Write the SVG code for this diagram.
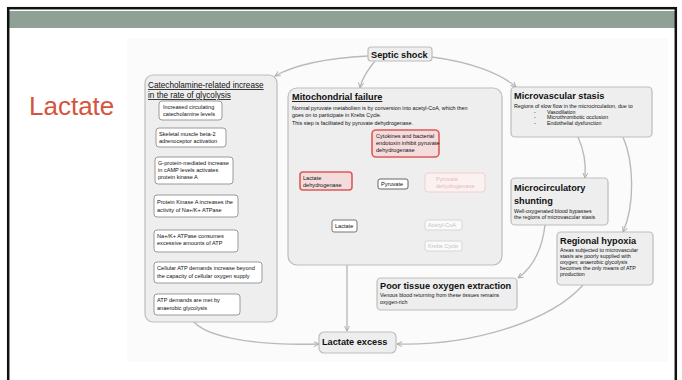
<svg xmlns="http://www.w3.org/2000/svg" width="682" height="380" viewBox="0 0 682 380">
<defs>
<style>
.t{font-family:"Liberation Sans",Arial,sans-serif;fill:#111}
.h{font-weight:bold;font-size:9.2px}
.s{font-size:5.6px}
.u{text-decoration:underline}
.box{fill:#eeeeee;stroke:#bdbdbd;stroke-width:1.2}
.ibox{fill:#ffffff;stroke:#9a9a9a;stroke-width:1}
.red{fill:#f5dcdc;stroke:#dc5a57;stroke-width:1.6}
.faint{fill:#fbf1f1;stroke:#f1cfcf;stroke-width:1}
.fbox{fill:#fafafa;stroke:#d6d6d6;stroke-width:1}
.conn{fill:none;stroke:#bababa;stroke-width:1.4}
.rc{fill:none;stroke:#dc5a57;stroke-width:1.7}
</style>
<marker id="ar" viewBox="0 0 8 8" refX="7" refY="4" markerWidth="6" markerHeight="6" markerUnits="userSpaceOnUse" orient="auto">
<path d="M0,0.5 L7,4 L0,7.5" fill="none" stroke="#a8a8a8" stroke-width="1.2"/>
</marker>
</defs>
<rect x="0" y="0" width="682" height="380" fill="#ffffff"/>
<rect x="8" y="11" width="668" height="17" fill="#8fa196"/>
<rect x="8.2" y="8.2" width="667.6" height="380" fill="none" stroke="#111" stroke-width="2.5"/>
<text x="29" y="115" style="font-family:'Liberation Sans',Arial,sans-serif;font-size:26px;fill:#d6533c">Lactate</text>
<rect x="127" y="38" width="541" height="324" fill="#fbfbfb"/>

<g id="connectors">
<path class="conn" d="M368,56 C330,58 296,64 275,76" marker-end="url(#ar)"/>
<path class="conn" d="M375,61 C368,70 362,78 360,88" marker-end="url(#ar)"/>
<path class="conn" d="M432,57 C470,62 500,73 516,87" marker-end="url(#ar)"/>
<path class="conn" d="M578,137 C584,150 586,165 585,178" marker-end="url(#ar)"/>
<path class="conn" d="M623,137 C634,162 635,205 623,232" marker-end="url(#ar)"/>
<path class="conn" d="M545,225 C542,250 532,268 518,278" marker-end="url(#ar)"/>
<path class="conn" d="M583,285 C550,322 470,346 397,344" marker-end="url(#ar)"/>
<path class="conn" d="M190,315 C196,336 250,346 319,344" marker-end="url(#ar)"/>
<path class="conn" d="M347,232 L347,331" marker-end="url(#ar)"/>
<path class="conn" d="M188,120 V128 M188,147 V157 M188,184 V195 M188,217 V230 M188,252 V262 M188,283 V294"/>
<path class="conn" d="M378,184 C360,186 348,200 347,220"/>
<path class="conn" d="M408,184 C430,184 443,196 443,220" style="stroke:#d8d8d8"/>
<path class="conn" d="M443,230 V241" style="stroke:#d8d8d8"/>
<path class="rc" d="M433,157 C435,167 434,173 430,177"/>
<path class="rc" d="M429,173 C421,176 421,187 429,190"/>
<path class="rc" d="M354,178 C365,180 366,192 354,195"/>
</g>

<g id="septic-shock">
<rect class="box" x="368" y="47" width="64" height="14" rx="3"/>
<text class="t h" x="371" y="57.5">Septic shock</text>
</g>

<g id="catecholamine">
<rect class="box" x="145" y="75" width="132" height="247" rx="8"/>
<text class="t u" x="148" y="88" style="font-size:8.2px">Catecholamine-related increase</text>
<text class="t u" x="148" y="98" style="font-size:8.2px">in the rate of glycolysis</text>
</g>
<g id="c1"><rect class="ibox" x="159" y="101" width="63" height="19" rx="3"/>
<text class="t s" x="163" y="108.5">Increased circulating</text><text class="t s" x="163" y="115.5">catecholamine levels</text></g>
<g id="c2"><rect class="ibox" x="156" y="128" width="70" height="19" rx="3"/>
<text class="t s" x="159" y="136">Skeletal muscle beta-2</text><text class="t s" x="159" y="143">adrenoceptor activation</text></g>
<g id="c3"><rect class="ibox" x="155" y="157" width="78" height="27" rx="3"/>
<text class="t s" x="158" y="164.5">G-protein-mediated increase</text><text class="t s" x="158" y="171.5">in cAMP levels activates</text><text class="t s" x="158" y="178.5">protein kinase A</text></g>
<g id="c4"><rect class="ibox" x="154" y="195" width="84" height="22" rx="3"/>
<text class="t s" x="157" y="203.5">Protein Kinase A increases the</text><text class="t s" x="157" y="211.5">activity of Na+/K+ ATPase</text></g>
<g id="c5"><rect class="ibox" x="154" y="230" width="84" height="22" rx="3"/>
<text class="t s" x="157" y="238">Na+/K+ ATPase consumes</text><text class="t s" x="157" y="245">excessive amounts of ATP</text></g>
<g id="c6"><rect class="ibox" x="154" y="262" width="108" height="21" rx="3"/>
<text class="t s" x="157" y="270">Cellular ATP demands increase beyond</text><text class="t s" x="157" y="278">the capacity of cellular oxygen supply</text></g>
<g id="c7"><rect class="ibox" x="154" y="294" width="86" height="21" rx="3"/>
<text class="t s" x="157" y="302">ATP demands are met by</text><text class="t s" x="157" y="310">anaerobic glycolysis</text></g>

<g id="mitochondrial">
<rect class="box" x="288" y="88" width="214" height="177" rx="9"/>
<text class="t h u" x="292" y="100">Mitochondrial failure</text>
<text class="t" x="292" y="110" style="font-size:5.4px">Normal pyruvate metabolism is by conversion into acetyl-CoA, which then</text>
<text class="t" x="292" y="116.5" style="font-size:5.4px">goes on to participate in Krebs Cycle.</text>
<text class="t" x="292" y="124.5" style="font-size:5.4px">This step is facilitated by pyruvate dehydrogenase.</text>
</g>
<g id="cytokines"><rect class="red" x="372" y="130" width="67" height="27" rx="4"/>
<text class="t s" x="376" y="137.5">Cytokines and bacterial</text><text class="t s" x="376" y="144.5">endotoxin inhibit pyruvate</text><text class="t s" x="376" y="151.5">dehydrogenase</text></g>
<g id="ldh"><rect class="red" x="300" y="172" width="52" height="18" rx="3"/>
<text class="t s" x="303" y="179.5">Lactate</text><text class="t s" x="303" y="186.5">dehydrogenase</text></g>
<g id="pyruvate"><rect class="ibox" x="378" y="179" width="30" height="10" rx="2" style="stroke:#666"/>
<text class="t s" x="381" y="186.3">Pyruvate</text></g>
<g id="pdh"><rect class="faint" x="425" y="173" width="60" height="19" rx="3"/>
<text class="t s" x="436" y="180.5" style="fill:#e6b9b9">Pyruvate</text><text class="t s" x="436" y="187.5" style="fill:#e6b9b9">dehydrogenase</text></g>
<g id="acetyl"><rect class="fbox" x="425" y="220" width="37" height="10" rx="2"/>
<text class="t s" x="428" y="227" style="fill:#c4c4c4">Acetyl-CoA</text></g>
<g id="krebs"><rect class="fbox" x="425" y="241" width="37" height="10" rx="2"/>
<text class="t s" x="428" y="248" style="fill:#c4c4c4">Krebs Cycle</text></g>
<g id="lactate"><rect class="ibox" x="332" y="220" width="25" height="12" rx="2" style="stroke:#777"/>
<text class="t s" x="335" y="228">Lactate</text></g>

<g id="microvascular">
<rect class="box" x="511" y="87" width="141" height="50" rx="4"/>
<text class="t h" x="514" y="98.5">Microvascular stasis</text>
<text class="t" x="514" y="108" style="font-size:5.3px">Regions of slow flow in the microcirculation, due to</text>
<text class="t" x="534" y="113.5" style="font-size:5.3px">-</text><text class="t" x="547" y="113.5" style="font-size:5.3px">Vasodilation</text>
<text class="t" x="534" y="119" style="font-size:5.3px">-</text><text class="t" x="547" y="119" style="font-size:5.3px">Microthrombotic occlusion</text>
<text class="t" x="534" y="124.5" style="font-size:5.3px">-</text><text class="t" x="547" y="124.5" style="font-size:5.3px">Endothelial dysfunction</text>
</g>

<g id="shunting">
<rect class="box" x="511" y="178" width="97" height="47" rx="4"/>
<text class="t h" x="514" y="190.5">Microcirculatory</text>
<text class="t h" x="514" y="204">shunting</text>
<text class="t" x="514" y="212.5" style="font-size:5.3px">Well-oxygenated blood bypasses</text>
<text class="t" x="514" y="219" style="font-size:5.3px">the regions of microvascular stasis</text>
</g>

<g id="hypoxia">
<rect class="box" x="557" y="232" width="96" height="53" rx="4"/>
<text class="t h" x="560" y="244">Regional hypoxia</text>
<text class="t" x="560" y="251.5" style="font-size:5.3px">Areas subjected to microvascular</text>
<text class="t" x="560" y="257.5" style="font-size:5.3px">stasis are poorly supplied with</text>
<text class="t" x="560" y="263.5" style="font-size:5.3px">oxygen; anaerobic glycolysis</text>
<text class="t" x="560" y="269.5" style="font-size:5.3px">becomes the only means of ATP</text>
<text class="t" x="560" y="275.5" style="font-size:5.3px">production</text>
</g>

<g id="poor-tissue">
<rect class="box" x="377" y="278" width="140" height="32" rx="4"/>
<text class="t h" x="380" y="289">Poor tissue oxygen extraction</text>
<text class="t" x="380" y="297" style="font-size:5.3px">Venous blood returning from these tissues remains</text>
<text class="t" x="380" y="304" style="font-size:5.3px">oxygen-rich</text>
</g>

<g id="lactate-excess">
<rect class="box" x="319" y="332" width="77" height="21" rx="5"/>
<text class="t h" x="322" y="345">Lactate excess</text>
</g>
</svg>
